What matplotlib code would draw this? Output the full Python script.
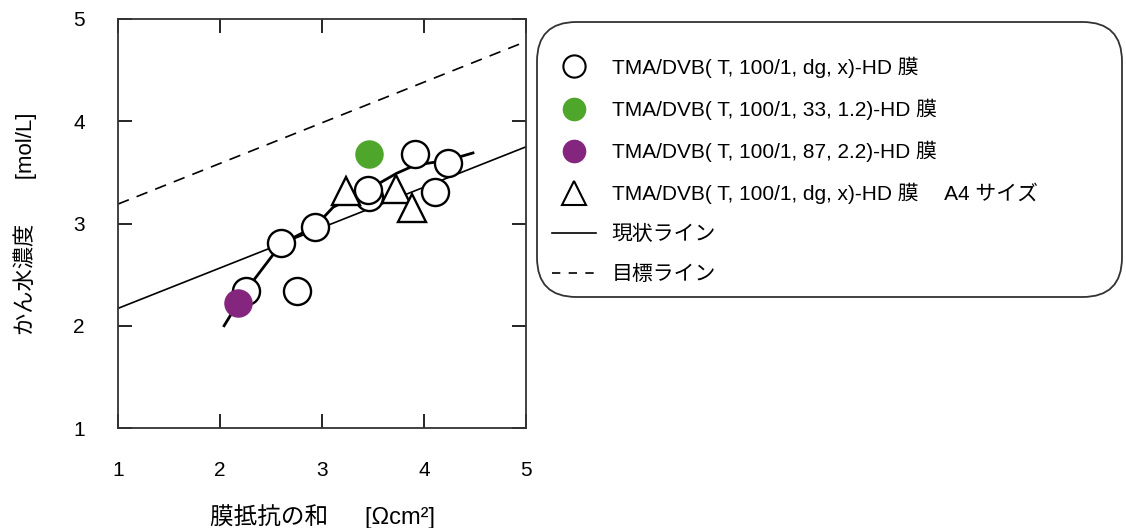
import numpy as np
import matplotlib
matplotlib.use("Agg")
import matplotlib.pyplot as plt
from matplotlib.patches import FancyBboxPatch
from matplotlib.lines import Line2D

plt.rcParams['font.family'] = ['Liberation Sans', 'Noto Sans CJK JP']

# data
open_x = [2.25, 2.60, 2.93, 2.75, 3.46, 3.45, 3.91, 4.24, 4.11]
open_y = [2.34, 2.81, 2.97, 2.34, 3.26, 3.33, 3.68, 3.59, 3.31]
green_x, green_y = [3.46], [3.68]
purple_x, purple_y = [2.18], [2.22]
tri_x = [3.24, 3.73, 3.88]
tri_y = [3.32, 3.34, 3.15]

# trend curve through the data
curve_x = [2.04, 2.25, 2.60, 2.93, 3.11, 3.45, 3.73, 3.91, 4.24, 4.48]
curve_y = [2.00, 2.34, 2.80, 2.97, 3.16, 3.33, 3.49, 3.57, 3.62, 3.69]

# current line and target line (end points at x = 1 and 5)
line_x = [1, 5]
current_y = [2.17, 3.75]
target_y = [3.19, 4.78]

legend_labels = [
    "TMA/DVB( T, 100/1, dg, x)-HD 膜",
    "TMA/DVB( T, 100/1, 33, 1.2)-HD 膜",
    "TMA/DVB( T, 100/1, 87, 2.2)-HD 膜",
    "TMA/DVB( T, 100/1, dg, x)-HD 膜　 A4 サイズ",
    "現状ライン",
    "目標ライン",
]

green = "#4ea72a"
purple = "#84267e"
dash = (0, (7, 5))

fig = plt.figure(figsize=(11.26, 5.28), dpi=100)
ax = fig.add_axes([118 / 1126, 1 - 428 / 528, 408 / 1126, 409 / 528])

ax.plot(line_x, target_y, color="black", lw=1.2, ls=dash, zorder=1)
ax.plot(line_x, current_y, color="black", lw=1.2, zorder=1)
ax.plot(curve_x, curve_y, color="black", lw=2, zorder=2)

ms = 19.5
ax.plot(open_x, open_y, ls="none", marker="o", ms=ms, mfc="white", mec="black", mew=1.7, zorder=3)
ax.plot(tri_x, tri_y, ls="none", marker="^", ms=ms, mfc="white", mec="black", mew=1.7, zorder=3)
ax.plot(green_x, green_y, ls="none", marker="o", ms=ms, mfc=green, mec=green, zorder=4)
ax.plot(purple_x, purple_y, ls="none", marker="o", ms=ms, mfc=purple, mec=purple, zorder=4)

ax.set_xlim(1, 5)
ax.set_ylim(1, 5)
ax.set_xticks([1, 2, 3, 4, 5])
ax.set_yticks([1, 2, 3, 4, 5])
ax.tick_params(direction="in", length=10, width=1.2, top=True, right=True,
               labelsize=15, colors="black")
ax.tick_params(axis="x", pad=24)
ax.tick_params(axis="y", pad=24)
for s in ax.spines.values():
    s.set_linewidth(1.3)
    s.set_color("#333333")

ax.set_xlabel("膜抵抗の和　  [Ωcm²]", fontsize=17, labelpad=17)
ax.set_ylabel("かん水濃度　　[mol/L]", fontsize=16, labelpad=26)

# legend box with rounded corners
box = FancyBboxPatch((537 / 1126, 1 - 297 / 528), 585 / 1126, 275 / 528,
                     boxstyle="round,pad=0,rounding_size=0.035",
                     transform=fig.transFigure, fc="white", ec="#333333", lw=1.3,
                     mutation_aspect=1126 / 528)
fig.patches.append(box)

lms = 16
handles = [
    Line2D([], [], ls="none", marker="o", ms=lms, mfc="white", mec="black", mew=1.5),
    Line2D([], [], ls="none", marker="o", ms=lms, mfc=green, mec=green),
    Line2D([], [], ls="none", marker="o", ms=lms, mfc=purple, mec=purple),
    Line2D([], [], ls="none", marker="^", ms=lms + 1, mfc="white", mec="black", mew=1.5),
    Line2D([], [], color="black", lw=1.2),
    Line2D([], [], color="black", lw=1.2, ls=(0, (5, 5))),
]
fig.legend(handles, legend_labels, loc="upper left",
           bbox_to_anchor=(544 / 1126, 1 - 48 / 528), frameon=False,
           fontsize=15, handlelength=2.1, handletextpad=0.75,
           labelspacing=1.0, borderaxespad=0)

fig.savefig("out.png", dpi=100, facecolor="white")
